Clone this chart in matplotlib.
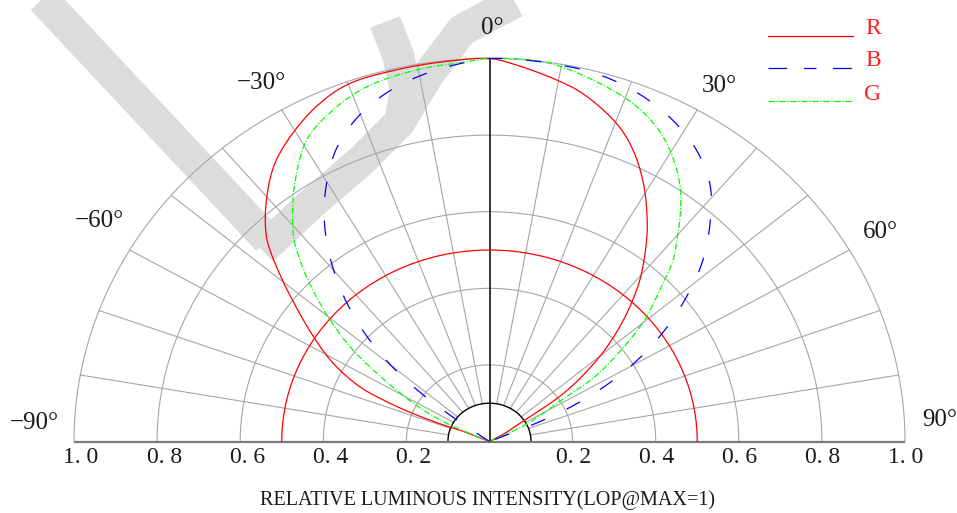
import numpy as np
import matplotlib
matplotlib.use("Agg")
import matplotlib.pyplot as plt

plt.rcParams['lines.scale_dashes'] = False
plt.rcParams['font.family'] = ['Liberation Serif', 'DejaVu Serif']

# ---------------- grid definition ----------------
spoke_angles = [-80, -70, -60, -50, -40, -30, -20, -10, 10, 20, 30, 40, 50, 60, 70, 80]
ring_levels = [0.2, 0.4, 0.6, 0.8, 1.0]
inner_level = 0.1
scale_ticks = [-1.0, -0.8, -0.6, -0.4, -0.2, 0.2, 0.4, 0.6, 0.8, 1.0]
scale_labels = ["1. 0", "0. 8", "0. 6", "0. 4", "0. 2", "0. 2", "0. 4", "0. 6", "0. 8", "1. 0"]
angle_labels = ["−90°", "−60°", "−30°", "0°", "30°", "60°", "90°"]
angle_label_theta = [-87.5, -58.5, -30.4, 0.4, 30.8, 59.8, 87.1]
angle_label_radius = [1.097, 1.10, 1.085, 1.08, 1.08, 1.088, 1.085]

# ---------------- radiation patterns (angle in deg, relative intensity) ----------------
red_angle = [-66, -67, -68.8, -68.5, -67.4, -65.4, -61.5, -57.1, -52.3, -49.2,
             -46.6, -45.1, -41.3, -35.9, -31.1, -25.3, -20, -12.5, -5.5, 0,
             3.8, 10.3, 14, 20.2, 24.4, 28.8, 32.8, 35.6, 40.1, 42.7,
             45.7, 49.2, 51.7, 54, 55.5, 56.6, 60, 60]
red_intensity = [0, 0.06, 0.119, 0.188, 0.259, 0.343, 0.428, 0.505, 0.597, 0.666,
                 0.727, 0.758, 0.816, 0.886, 0.929, 0.970, 0.993, 0.996, 0.998, 1.0,
                 0.985, 0.955, 0.935, 0.885, 0.836, 0.769, 0.700, 0.650, 0.566, 0.512,
                 0.447, 0.368, 0.304, 0.243, 0.190, 0.102, 0.042, 0]
red_half_level = 0.5

blue_angle = [-56, -54.3, -52.5, -50, -46.8, -43.1, -39.1, -35, -30.3, -25.4,
              -19.9, -14.1, -8.2, -2.5, 0, 4, 9.4, 15.2, 21.2, 27,
              32.8, 38.3, 42.9, 47.5, 51.6, 55.5, 59.3, 62.6, 65.4, 67.2, 68]
blue_intensity = [0, 0.105, 0.209, 0.311, 0.411, 0.509, 0.604, 0.692, 0.778, 0.853,
                  0.910, 0.950, 0.976, 0.994, 1.0, 1.0, 0.998, 0.994, 0.978, 0.952,
                  0.913, 0.856, 0.780, 0.695, 0.603, 0.510, 0.411, 0.311, 0.209, 0.106, 0]

green_angle = [-66, -65.6, -62.7, -59.6, -56.3, -53.6, -50.4, -48.5, -45.7, -43.9,
               -41.8, -38.1, -34.8, -29.2, -23.5, -17.7, -10.2, -3.2, 0, 8.4,
               19.7, 25.4, 29.7, 34.6, 38, 40.6, 43, 45, 48.4, 49.7,
               53, 56.3, 58, 62.9, 65, 65]
green_intensity = [0, 0.104, 0.179, 0.249, 0.336, 0.417, 0.498, 0.545, 0.615, 0.658,
                   0.706, 0.768, 0.821, 0.902, 0.944, 0.972, 0.986, 0.993, 1.0, 0.998,
                   0.956, 0.920, 0.876, 0.808, 0.745, 0.693, 0.648, 0.596, 0.517, 0.490,
                   0.397, 0.304, 0.204, 0.104, 0.040, 0]

series_names = ["R", "B", "G"]

# ---------------- helpers ----------------
W, H = 957, 513
CX, CY, SX, SY = 489.5, 441.5, 415.5, 383.0


def px(x, y):
    """figure pixel (top-left origin) -> data coordinates"""
    return (np.asarray(x, float) - CX) / SX, (CY - np.asarray(y, float)) / SY


def polar_xy(theta_deg, r):
    t = np.radians(np.asarray(theta_deg, float))
    r = np.asarray(r, float)
    return r * np.sin(t), r * np.cos(t)


def smooth_curve(theta, r, steps=16):
    """centripetal Catmull-Rom line through the polar points"""
    x, y = polar_xy(theta, r)
    P = np.column_stack([x, y])
    P = np.vstack([2 * P[0] - P[1], P, 2 * P[-1] - P[-2]])
    out = [P[1]]
    for i in range(1, len(P) - 2):
        p0, p1, p2, p3 = P[i - 1], P[i], P[i + 1], P[i + 2]
        t0 = 0.0
        t1 = t0 + max(np.linalg.norm(p1 - p0), 1e-6) ** 0.5
        t2 = t1 + max(np.linalg.norm(p2 - p1), 1e-6) ** 0.5
        t3 = t2 + max(np.linalg.norm(p3 - p2), 1e-6) ** 0.5
        t = np.linspace(t1, t2, steps + 1)[1:][:, None]
        a1 = (t1 - t) / (t1 - t0) * p0 + (t - t0) / (t1 - t0) * p1
        a2 = (t2 - t) / (t2 - t1) * p1 + (t - t1) / (t2 - t1) * p2
        a3 = (t3 - t) / (t3 - t2) * p2 + (t - t2) / (t3 - t2) * p3
        b1 = (t2 - t) / (t2 - t0) * a1 + (t - t0) / (t2 - t0) * a2
        b2 = (t3 - t) / (t3 - t1) * a2 + (t - t1) / (t3 - t1) * a3
        c = (t2 - t) / (t2 - t1) * b1 + (t - t1) / (t2 - t1) * b2
        out.extend(c)
    out = np.array(out)
    return out[:, 0], out[:, 1]


fig = plt.figure(figsize=(W / 100, H / 100), dpi=100)
ax = fig.add_axes([0, 0, 1, 1])
ax.set_xlim(-CX / SX, (W - CX) / SX)
ax.set_ylim((CY - H) / SY, CY / SY)
ax.axis('off')

# ---------------- watermark strokes ----------------
wm = '#dcdcdc'
wm_lw = 23
for pts in ([(32, -12), (268, 240)],
            [(262, 250), (310, 205), (362, 160), (400, 122), (406, 90), (398, 55), (385, 22)],
            [(402, 118), (428, 75), (462, 30), (515, 2)]):
    xs, ys = px([p[0] for p in pts], [p[1] for p in pts])
    ax.plot(xs, ys, color=wm, lw=wm_lw, solid_capstyle='butt', solid_joinstyle='round', zorder=0.5)

# ---------------- polar grid ----------------
grid_c = '#a6a6a6'
arc = np.linspace(-90, 90, 361)
for lv in ring_levels:
    x, y = polar_xy(arc, np.full_like(arc, lv))
    ax.plot(x, y, color=grid_c, lw=0.8, zorder=1)
for a in spoke_angles:
    x, y = polar_xy([a, a], [inner_level, 1.0])
    ax.plot(x, y, color=grid_c, lw=0.8, zorder=1)

x, y = polar_xy(arc, np.full_like(arc, inner_level))
ax.plot(x, y, color='black', lw=1.0, zorder=2)
x, y = polar_xy([0, 0], [0, 1.0])
ax.plot(x, y, color='black', lw=1.1, zorder=2)
ax.plot([-1.0, 1.0], [0, 0], color='#7a7a7a', lw=1.6, zorder=2, solid_capstyle='butt')

# ---------------- curves ----------------
x, y = polar_xy(arc, np.full_like(arc, red_half_level))
ax.plot(x, y, color='#ff0000', lw=0.9, zorder=3)
x, y = smooth_curve(red_angle, red_intensity)
ax.plot(x, y, color='#ff0000', lw=0.9, zorder=3)
x, y = smooth_curve(green_angle, green_intensity)
ax.plot(x, y, color='#00ff00', lw=0.9, zorder=3, dashes=(4.5, 1.3, 0.8, 1.3))
x, y = smooth_curve(blue_angle, blue_intensity)
ax.plot(x, y, color='#0000ff', lw=0.9, zorder=4, dashes=(11, 17))

# ---------------- labels ----------------
for v, lab in zip(scale_ticks, scale_labels):
    shift = 7 if v < 0 else 1
    tx, ty = px(CX + v * SX + shift, 457.5)
    ax.text(tx, ty, lab, ha='center', va='center', fontsize=17, color='#1a1a1a')

for th, rr, lab in zip(angle_label_theta, angle_label_radius, angle_labels):
    tx, ty = polar_xy(th, rr)
    ax.text(tx, ty, lab, ha='center', va='center', fontsize=18, color='#1a1a1a')

tx, ty = px(488, 500)
ax.text(tx, ty, "RELATIVE LUMINOUS INTENSITY(LOP@MAX=1)", ha='center', va='center',
        fontsize=14.5, color='#1a1a1a')

# ---------------- legend ----------------
leg_y = [36, 68, 101]
leg_style = [dict(color='#ff0000'),
             dict(color='#0000ff', dashes=(13.5, 12, 9, 12, 13.5)),
             dict(color='#00ff00', dashes=(4.5, 1.3, 0.8, 1.3))]
for name, yy, st in zip(series_names, leg_y, leg_style):
    lx, ly = px([768, 853], [yy, yy])
    ax.plot(lx, ly, lw=0.9, **st)
    tx, ty = px(873, yy - 7)
    ax.text(tx, ty, name, ha='center', va='center', fontsize=17, color='#ff2020')

fig.savefig('out.png', dpi=100)
